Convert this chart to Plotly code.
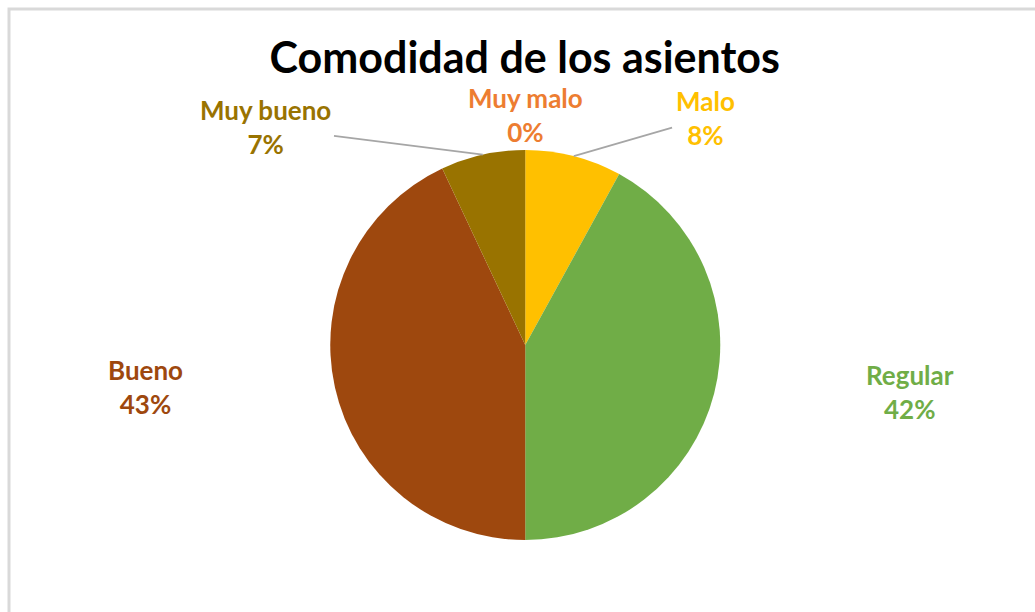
import math
import plotly.graph_objects as go

labels = ["Muy malo", "Malo", "Regular", "Bueno", "Muy bueno"]
values = [0, 8, 42, 43, 7]
colors = ["#ED7D31", "#FFC000", "#70AD47", "#9E480E", "#997300"]
title_text = "Comodidad de los asientos"

W, H = 1035, 612
# pie placement (pixels)
CX, CY, R = 525.3, 345.0, 195.0
dom_y = [(H - (CY + R)) / H, (H - (CY - R)) / H]

# label centres (pixels) and whether a leader line is drawn
label_pos = {
    "Muy malo": (525, 115, False),
    "Malo": (705, 118, True),
    "Regular": (910, 392, False),
    "Bueno": (145, 387, False),
    "Muy bueno": (265, 127, True),
}

fig = go.Figure(
    go.Pie(
        labels=labels,
        values=values,
        sort=False,
        direction="clockwise",
        rotation=0,
        marker=dict(colors=colors, line=dict(color="white", width=0)),
        textinfo="none",
        showlegend=False,
        automargin=False,
        domain=dict(x=[0.015, 1.0], y=dom_y),
    )
)

total = sum(values)
annotations = []
cum = 0
for lab, v, c in zip(labels, values, colors):
    mid = (cum + v / 2) / total * 2 * math.pi
    cum += v
    lx, ly, leader = label_pos[lab]
    txt = "<b>%s<br>%d%%</b>" % (lab, round(v / total * 100))
    font = dict(family="Lato", size=26, color=c)
    if leader:
        tx = CX + R * math.sin(mid)
        ty = CY - R * math.cos(mid)
        annotations.append(dict(
            x=tx / W, y=1 - ty / H, xref="paper", yref="paper",
            ax=lx - tx, ay=ly - ty, text=txt, font=font,
            showarrow=True, arrowhead=0, arrowwidth=1.8, arrowcolor="#A6A6A6",
            standoff=0, startstandoff=2,
        ))
    else:
        annotations.append(dict(
            x=lx / W, y=1 - ly / H, xref="paper", yref="paper",
            xanchor="center", yanchor="middle",
            text=txt, font=font, showarrow=False,
        ))

fig.update_layout(
    width=W,
    height=H,
    autosize=False,
    margin=dict(l=0, r=0, t=0, b=0, pad=0, autoexpand=False),
    paper_bgcolor="white",
    plot_bgcolor="white",
    title=dict(
        text="<b>" + title_text + "</b>",
        x=0.507,
        xanchor="center",
        y=0.905,
        yanchor="middle",
        font=dict(family="Lato", size=43, color="black"),
    ),
    annotations=annotations,
    shapes=[
        dict(
            type="rect", xref="paper", yref="paper",
            x0=9 / W, x1=1.01, y0=-0.01, y1=1 - 9 / H,
            line=dict(color="#D9D9D9", width=3), fillcolor="rgba(0,0,0,0)",
            layer="below",
        )
    ],
)

fig.write_html("out.html")
